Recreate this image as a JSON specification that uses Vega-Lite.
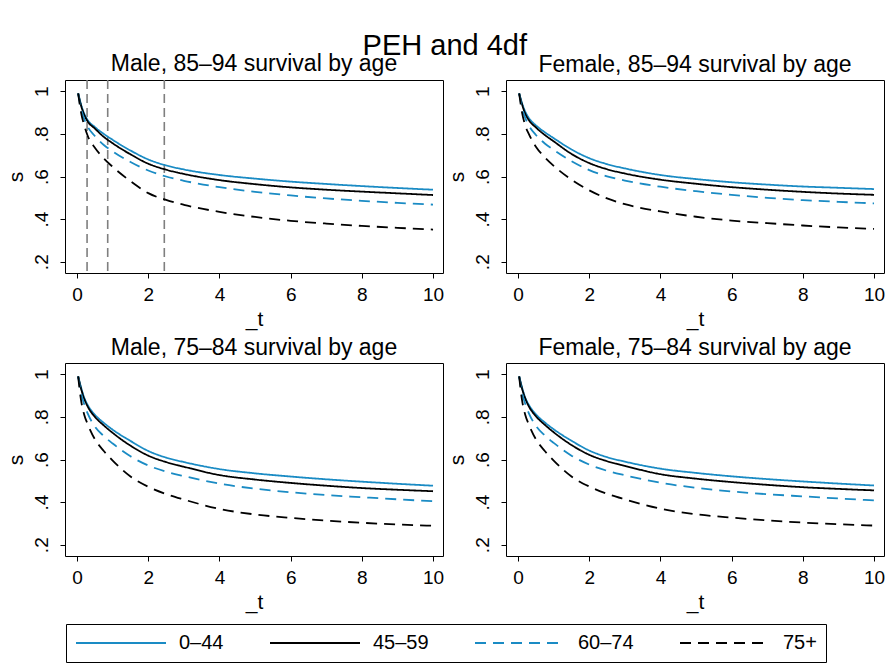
{
  "$schema": "https://vega.github.io/schema/vega-lite/v6.json",
  "padding": {"left": 4, "top": 31, "right": 0, "bottom": 0},
  "background": "white",
  "title": {"text": "PEH and 4df", "fontSize": 29, "font": "Liberation Sans", "fontWeight": "normal", "color": "black", "anchor": "middle", "offset": -8},
  "data": {"values": [
    {"panel":"Male, 85–94 survival by age","kind":"knot","t":0.28},
    {"panel":"Male, 85–94 survival by age","kind":"knot","t":0.86},
    {"panel":"Male, 85–94 survival by age","kind":"knot","t":2.45},

    {"panel":"Male, 85–94 survival by age","kind":"curve","group":"0–44","t":0.03,"s":0.99},
    {"panel":"Male, 85–94 survival by age","kind":"curve","group":"0–44","t":0.1,"s":0.945},
    {"panel":"Male, 85–94 survival by age","kind":"curve","group":"0–44","t":0.2,"s":0.895},
    {"panel":"Male, 85–94 survival by age","kind":"curve","group":"0–44","t":0.3,"s":0.864},
    {"panel":"Male, 85–94 survival by age","kind":"curve","group":"0–44","t":0.5,"s":0.832},
    {"panel":"Male, 85–94 survival by age","kind":"curve","group":"0–44","t":0.75,"s":0.8},
    {"panel":"Male, 85–94 survival by age","kind":"curve","group":"0–44","t":1,"s":0.772},
    {"panel":"Male, 85–94 survival by age","kind":"curve","group":"0–44","t":1.5,"s":0.722},
    {"panel":"Male, 85–94 survival by age","kind":"curve","group":"0–44","t":2,"s":0.68},
    {"panel":"Male, 85–94 survival by age","kind":"curve","group":"0–44","t":2.5,"s":0.652},
    {"panel":"Male, 85–94 survival by age","kind":"curve","group":"0–44","t":3,"s":0.633},
    {"panel":"Male, 85–94 survival by age","kind":"curve","group":"0–44","t":4,"s":0.607},
    {"panel":"Male, 85–94 survival by age","kind":"curve","group":"0–44","t":5,"s":0.59},
    {"panel":"Male, 85–94 survival by age","kind":"curve","group":"0–44","t":6,"s":0.576},
    {"panel":"Male, 85–94 survival by age","kind":"curve","group":"0–44","t":7,"s":0.565},
    {"panel":"Male, 85–94 survival by age","kind":"curve","group":"0–44","t":8,"s":0.555},
    {"panel":"Male, 85–94 survival by age","kind":"curve","group":"0–44","t":9,"s":0.546},
    {"panel":"Male, 85–94 survival by age","kind":"curve","group":"0–44","t":10,"s":0.538},

    {"panel":"Male, 85–94 survival by age","kind":"curve","group":"45–59","t":0.03,"s":0.99},
    {"panel":"Male, 85–94 survival by age","kind":"curve","group":"45–59","t":0.1,"s":0.94},
    {"panel":"Male, 85–94 survival by age","kind":"curve","group":"45–59","t":0.2,"s":0.89},
    {"panel":"Male, 85–94 survival by age","kind":"curve","group":"45–59","t":0.3,"s":0.858},
    {"panel":"Male, 85–94 survival by age","kind":"curve","group":"45–59","t":0.5,"s":0.825},
    {"panel":"Male, 85–94 survival by age","kind":"curve","group":"45–59","t":0.75,"s":0.786},
    {"panel":"Male, 85–94 survival by age","kind":"curve","group":"45–59","t":1,"s":0.756},
    {"panel":"Male, 85–94 survival by age","kind":"curve","group":"45–59","t":1.5,"s":0.704},
    {"panel":"Male, 85–94 survival by age","kind":"curve","group":"45–59","t":2,"s":0.66},
    {"panel":"Male, 85–94 survival by age","kind":"curve","group":"45–59","t":2.5,"s":0.632},
    {"panel":"Male, 85–94 survival by age","kind":"curve","group":"45–59","t":3,"s":0.612},
    {"panel":"Male, 85–94 survival by age","kind":"curve","group":"45–59","t":4,"s":0.583},
    {"panel":"Male, 85–94 survival by age","kind":"curve","group":"45–59","t":5,"s":0.564},
    {"panel":"Male, 85–94 survival by age","kind":"curve","group":"45–59","t":6,"s":0.549},
    {"panel":"Male, 85–94 survival by age","kind":"curve","group":"45–59","t":7,"s":0.538},
    {"panel":"Male, 85–94 survival by age","kind":"curve","group":"45–59","t":8,"s":0.529},
    {"panel":"Male, 85–94 survival by age","kind":"curve","group":"45–59","t":9,"s":0.521},
    {"panel":"Male, 85–94 survival by age","kind":"curve","group":"45–59","t":10,"s":0.513},

    {"panel":"Male, 85–94 survival by age","kind":"curve","group":"60–74","t":0.03,"s":0.99},
    {"panel":"Male, 85–94 survival by age","kind":"curve","group":"60–74","t":0.1,"s":0.925},
    {"panel":"Male, 85–94 survival by age","kind":"curve","group":"60–74","t":0.2,"s":0.87},
    {"panel":"Male, 85–94 survival by age","kind":"curve","group":"60–74","t":0.3,"s":0.833},
    {"panel":"Male, 85–94 survival by age","kind":"curve","group":"60–74","t":0.5,"s":0.79},
    {"panel":"Male, 85–94 survival by age","kind":"curve","group":"60–74","t":0.75,"s":0.748},
    {"panel":"Male, 85–94 survival by age","kind":"curve","group":"60–74","t":1,"s":0.718},
    {"panel":"Male, 85–94 survival by age","kind":"curve","group":"60–74","t":1.5,"s":0.668},
    {"panel":"Male, 85–94 survival by age","kind":"curve","group":"60–74","t":2,"s":0.628},
    {"panel":"Male, 85–94 survival by age","kind":"curve","group":"60–74","t":2.5,"s":0.6},
    {"panel":"Male, 85–94 survival by age","kind":"curve","group":"60–74","t":3,"s":0.58},
    {"panel":"Male, 85–94 survival by age","kind":"curve","group":"60–74","t":4,"s":0.55},
    {"panel":"Male, 85–94 survival by age","kind":"curve","group":"60–74","t":5,"s":0.528},
    {"panel":"Male, 85–94 survival by age","kind":"curve","group":"60–74","t":6,"s":0.511},
    {"panel":"Male, 85–94 survival by age","kind":"curve","group":"60–74","t":7,"s":0.497},
    {"panel":"Male, 85–94 survival by age","kind":"curve","group":"60–74","t":8,"s":0.486},
    {"panel":"Male, 85–94 survival by age","kind":"curve","group":"60–74","t":9,"s":0.476},
    {"panel":"Male, 85–94 survival by age","kind":"curve","group":"60–74","t":10,"s":0.468},

    {"panel":"Male, 85–94 survival by age","kind":"curve","group":"75+","t":0.03,"s":0.99},
    {"panel":"Male, 85–94 survival by age","kind":"curve","group":"75+","t":0.1,"s":0.91},
    {"panel":"Male, 85–94 survival by age","kind":"curve","group":"75+","t":0.2,"s":0.84},
    {"panel":"Male, 85–94 survival by age","kind":"curve","group":"75+","t":0.3,"s":0.79},
    {"panel":"Male, 85–94 survival by age","kind":"curve","group":"75+","t":0.5,"s":0.735},
    {"panel":"Male, 85–94 survival by age","kind":"curve","group":"75+","t":0.75,"s":0.685},
    {"panel":"Male, 85–94 survival by age","kind":"curve","group":"75+","t":1,"s":0.645},
    {"panel":"Male, 85–94 survival by age","kind":"curve","group":"75+","t":1.5,"s":0.578},
    {"panel":"Male, 85–94 survival by age","kind":"curve","group":"75+","t":2,"s":0.522},
    {"panel":"Male, 85–94 survival by age","kind":"curve","group":"75+","t":2.5,"s":0.49},
    {"panel":"Male, 85–94 survival by age","kind":"curve","group":"75+","t":3,"s":0.467},
    {"panel":"Male, 85–94 survival by age","kind":"curve","group":"75+","t":4,"s":0.434},
    {"panel":"Male, 85–94 survival by age","kind":"curve","group":"75+","t":5,"s":0.41},
    {"panel":"Male, 85–94 survival by age","kind":"curve","group":"75+","t":6,"s":0.392},
    {"panel":"Male, 85–94 survival by age","kind":"curve","group":"75+","t":7,"s":0.379},
    {"panel":"Male, 85–94 survival by age","kind":"curve","group":"75+","t":8,"s":0.368},
    {"panel":"Male, 85–94 survival by age","kind":"curve","group":"75+","t":9,"s":0.359},
    {"panel":"Male, 85–94 survival by age","kind":"curve","group":"75+","t":10,"s":0.351},

    {"panel":"Female, 85–94 survival by age","kind":"curve","group":"0–44","t":0.03,"s":0.99},
    {"panel":"Female, 85–94 survival by age","kind":"curve","group":"0–44","t":0.1,"s":0.95},
    {"panel":"Female, 85–94 survival by age","kind":"curve","group":"0–44","t":0.2,"s":0.905},
    {"panel":"Female, 85–94 survival by age","kind":"curve","group":"0–44","t":0.3,"s":0.875},
    {"panel":"Female, 85–94 survival by age","kind":"curve","group":"0–44","t":0.5,"s":0.84},
    {"panel":"Female, 85–94 survival by age","kind":"curve","group":"0–44","t":0.75,"s":0.808},
    {"panel":"Female, 85–94 survival by age","kind":"curve","group":"0–44","t":1,"s":0.78},
    {"panel":"Female, 85–94 survival by age","kind":"curve","group":"0–44","t":1.5,"s":0.727},
    {"panel":"Female, 85–94 survival by age","kind":"curve","group":"0–44","t":2,"s":0.686},
    {"panel":"Female, 85–94 survival by age","kind":"curve","group":"0–44","t":2.5,"s":0.658},
    {"panel":"Female, 85–94 survival by age","kind":"curve","group":"0–44","t":3,"s":0.638},
    {"panel":"Female, 85–94 survival by age","kind":"curve","group":"0–44","t":4,"s":0.607},
    {"panel":"Female, 85–94 survival by age","kind":"curve","group":"0–44","t":5,"s":0.588},
    {"panel":"Female, 85–94 survival by age","kind":"curve","group":"0–44","t":6,"s":0.573},
    {"panel":"Female, 85–94 survival by age","kind":"curve","group":"0–44","t":7,"s":0.562},
    {"panel":"Female, 85–94 survival by age","kind":"curve","group":"0–44","t":8,"s":0.553},
    {"panel":"Female, 85–94 survival by age","kind":"curve","group":"0–44","t":9,"s":0.547},
    {"panel":"Female, 85–94 survival by age","kind":"curve","group":"0–44","t":10,"s":0.541},

    {"panel":"Female, 85–94 survival by age","kind":"curve","group":"45–59","t":0.03,"s":0.99},
    {"panel":"Female, 85–94 survival by age","kind":"curve","group":"45–59","t":0.1,"s":0.945},
    {"panel":"Female, 85–94 survival by age","kind":"curve","group":"45–59","t":0.2,"s":0.895},
    {"panel":"Female, 85–94 survival by age","kind":"curve","group":"45–59","t":0.3,"s":0.865},
    {"panel":"Female, 85–94 survival by age","kind":"curve","group":"45–59","t":0.5,"s":0.83},
    {"panel":"Female, 85–94 survival by age","kind":"curve","group":"45–59","t":0.75,"s":0.795},
    {"panel":"Female, 85–94 survival by age","kind":"curve","group":"45–59","t":1,"s":0.765},
    {"panel":"Female, 85–94 survival by age","kind":"curve","group":"45–59","t":1.5,"s":0.706},
    {"panel":"Female, 85–94 survival by age","kind":"curve","group":"45–59","t":2,"s":0.663},
    {"panel":"Female, 85–94 survival by age","kind":"curve","group":"45–59","t":2.5,"s":0.634},
    {"panel":"Female, 85–94 survival by age","kind":"curve","group":"45–59","t":3,"s":0.614},
    {"panel":"Female, 85–94 survival by age","kind":"curve","group":"45–59","t":4,"s":0.585},
    {"panel":"Female, 85–94 survival by age","kind":"curve","group":"45–59","t":5,"s":0.566},
    {"panel":"Female, 85–94 survival by age","kind":"curve","group":"45–59","t":6,"s":0.55},
    {"panel":"Female, 85–94 survival by age","kind":"curve","group":"45–59","t":7,"s":0.538},
    {"panel":"Female, 85–94 survival by age","kind":"curve","group":"45–59","t":8,"s":0.528},
    {"panel":"Female, 85–94 survival by age","kind":"curve","group":"45–59","t":9,"s":0.52},
    {"panel":"Female, 85–94 survival by age","kind":"curve","group":"45–59","t":10,"s":0.514},

    {"panel":"Female, 85–94 survival by age","kind":"curve","group":"60–74","t":0.03,"s":0.99},
    {"panel":"Female, 85–94 survival by age","kind":"curve","group":"60–74","t":0.1,"s":0.93},
    {"panel":"Female, 85–94 survival by age","kind":"curve","group":"60–74","t":0.2,"s":0.875},
    {"panel":"Female, 85–94 survival by age","kind":"curve","group":"60–74","t":0.3,"s":0.84},
    {"panel":"Female, 85–94 survival by age","kind":"curve","group":"60–74","t":0.5,"s":0.795},
    {"panel":"Female, 85–94 survival by age","kind":"curve","group":"60–74","t":0.75,"s":0.755},
    {"panel":"Female, 85–94 survival by age","kind":"curve","group":"60–74","t":1,"s":0.725},
    {"panel":"Female, 85–94 survival by age","kind":"curve","group":"60–74","t":1.5,"s":0.672},
    {"panel":"Female, 85–94 survival by age","kind":"curve","group":"60–74","t":2,"s":0.63},
    {"panel":"Female, 85–94 survival by age","kind":"curve","group":"60–74","t":2.5,"s":0.601},
    {"panel":"Female, 85–94 survival by age","kind":"curve","group":"60–74","t":3,"s":0.581},
    {"panel":"Female, 85–94 survival by age","kind":"curve","group":"60–74","t":4,"s":0.552},
    {"panel":"Female, 85–94 survival by age","kind":"curve","group":"60–74","t":5,"s":0.531},
    {"panel":"Female, 85–94 survival by age","kind":"curve","group":"60–74","t":6,"s":0.514},
    {"panel":"Female, 85–94 survival by age","kind":"curve","group":"60–74","t":7,"s":0.5},
    {"panel":"Female, 85–94 survival by age","kind":"curve","group":"60–74","t":8,"s":0.489},
    {"panel":"Female, 85–94 survival by age","kind":"curve","group":"60–74","t":9,"s":0.481},
    {"panel":"Female, 85–94 survival by age","kind":"curve","group":"60–74","t":10,"s":0.474},

    {"panel":"Female, 85–94 survival by age","kind":"curve","group":"75+","t":0.03,"s":0.99},
    {"panel":"Female, 85–94 survival by age","kind":"curve","group":"75+","t":0.1,"s":0.91},
    {"panel":"Female, 85–94 survival by age","kind":"curve","group":"75+","t":0.2,"s":0.84},
    {"panel":"Female, 85–94 survival by age","kind":"curve","group":"75+","t":0.3,"s":0.8},
    {"panel":"Female, 85–94 survival by age","kind":"curve","group":"75+","t":0.5,"s":0.74},
    {"panel":"Female, 85–94 survival by age","kind":"curve","group":"75+","t":0.75,"s":0.69},
    {"panel":"Female, 85–94 survival by age","kind":"curve","group":"75+","t":1,"s":0.65},
    {"panel":"Female, 85–94 survival by age","kind":"curve","group":"75+","t":1.5,"s":0.585},
    {"panel":"Female, 85–94 survival by age","kind":"curve","group":"75+","t":2,"s":0.535},
    {"panel":"Female, 85–94 survival by age","kind":"curve","group":"75+","t":2.5,"s":0.497},
    {"panel":"Female, 85–94 survival by age","kind":"curve","group":"75+","t":3,"s":0.47},
    {"panel":"Female, 85–94 survival by age","kind":"curve","group":"75+","t":4,"s":0.436},
    {"panel":"Female, 85–94 survival by age","kind":"curve","group":"75+","t":5,"s":0.411},
    {"panel":"Female, 85–94 survival by age","kind":"curve","group":"75+","t":6,"s":0.393},
    {"panel":"Female, 85–94 survival by age","kind":"curve","group":"75+","t":7,"s":0.381},
    {"panel":"Female, 85–94 survival by age","kind":"curve","group":"75+","t":8,"s":0.37},
    {"panel":"Female, 85–94 survival by age","kind":"curve","group":"75+","t":9,"s":0.361},
    {"panel":"Female, 85–94 survival by age","kind":"curve","group":"75+","t":10,"s":0.354},

    {"panel":"Male, 75–84 survival by age","kind":"curve","group":"0–44","t":0.03,"s":0.99},
    {"panel":"Male, 75–84 survival by age","kind":"curve","group":"0–44","t":0.1,"s":0.945},
    {"panel":"Male, 75–84 survival by age","kind":"curve","group":"0–44","t":0.2,"s":0.89},
    {"panel":"Male, 75–84 survival by age","kind":"curve","group":"0–44","t":0.3,"s":0.855},
    {"panel":"Male, 75–84 survival by age","kind":"curve","group":"0–44","t":0.5,"s":0.81},
    {"panel":"Male, 75–84 survival by age","kind":"curve","group":"0–44","t":0.75,"s":0.772},
    {"panel":"Male, 75–84 survival by age","kind":"curve","group":"0–44","t":1,"s":0.74},
    {"panel":"Male, 75–84 survival by age","kind":"curve","group":"0–44","t":1.5,"s":0.687},
    {"panel":"Male, 75–84 survival by age","kind":"curve","group":"0–44","t":2,"s":0.64},
    {"panel":"Male, 75–84 survival by age","kind":"curve","group":"0–44","t":2.5,"s":0.609},
    {"panel":"Male, 75–84 survival by age","kind":"curve","group":"0–44","t":3,"s":0.588},
    {"panel":"Male, 75–84 survival by age","kind":"curve","group":"0–44","t":4,"s":0.555},
    {"panel":"Male, 75–84 survival by age","kind":"curve","group":"0–44","t":5,"s":0.535},
    {"panel":"Male, 75–84 survival by age","kind":"curve","group":"0–44","t":6,"s":0.52},
    {"panel":"Male, 75–84 survival by age","kind":"curve","group":"0–44","t":7,"s":0.507},
    {"panel":"Male, 75–84 survival by age","kind":"curve","group":"0–44","t":8,"s":0.496},
    {"panel":"Male, 75–84 survival by age","kind":"curve","group":"0–44","t":9,"s":0.486},
    {"panel":"Male, 75–84 survival by age","kind":"curve","group":"0–44","t":10,"s":0.477},

    {"panel":"Male, 75–84 survival by age","kind":"curve","group":"45–59","t":0.03,"s":0.99},
    {"panel":"Male, 75–84 survival by age","kind":"curve","group":"45–59","t":0.1,"s":0.94},
    {"panel":"Male, 75–84 survival by age","kind":"curve","group":"45–59","t":0.2,"s":0.885},
    {"panel":"Male, 75–84 survival by age","kind":"curve","group":"45–59","t":0.3,"s":0.848},
    {"panel":"Male, 75–84 survival by age","kind":"curve","group":"45–59","t":0.5,"s":0.8},
    {"panel":"Male, 75–84 survival by age","kind":"curve","group":"45–59","t":0.75,"s":0.76},
    {"panel":"Male, 75–84 survival by age","kind":"curve","group":"45–59","t":1,"s":0.725},
    {"panel":"Male, 75–84 survival by age","kind":"curve","group":"45–59","t":1.5,"s":0.665},
    {"panel":"Male, 75–84 survival by age","kind":"curve","group":"45–59","t":2,"s":0.618},
    {"panel":"Male, 75–84 survival by age","kind":"curve","group":"45–59","t":2.5,"s":0.588},
    {"panel":"Male, 75–84 survival by age","kind":"curve","group":"45–59","t":3,"s":0.566},
    {"panel":"Male, 75–84 survival by age","kind":"curve","group":"45–59","t":4,"s":0.527},
    {"panel":"Male, 75–84 survival by age","kind":"curve","group":"45–59","t":5,"s":0.506},
    {"panel":"Male, 75–84 survival by age","kind":"curve","group":"45–59","t":6,"s":0.49},
    {"panel":"Male, 75–84 survival by age","kind":"curve","group":"45–59","t":7,"s":0.477},
    {"panel":"Male, 75–84 survival by age","kind":"curve","group":"45–59","t":8,"s":0.466},
    {"panel":"Male, 75–84 survival by age","kind":"curve","group":"45–59","t":9,"s":0.458},
    {"panel":"Male, 75–84 survival by age","kind":"curve","group":"45–59","t":10,"s":0.451},

    {"panel":"Male, 75–84 survival by age","kind":"curve","group":"60–74","t":0.03,"s":0.99},
    {"panel":"Male, 75–84 survival by age","kind":"curve","group":"60–74","t":0.1,"s":0.92},
    {"panel":"Male, 75–84 survival by age","kind":"curve","group":"60–74","t":0.2,"s":0.86},
    {"panel":"Male, 75–84 survival by age","kind":"curve","group":"60–74","t":0.3,"s":0.815},
    {"panel":"Male, 75–84 survival by age","kind":"curve","group":"60–74","t":0.5,"s":0.755},
    {"panel":"Male, 75–84 survival by age","kind":"curve","group":"60–74","t":0.75,"s":0.71},
    {"panel":"Male, 75–84 survival by age","kind":"curve","group":"60–74","t":1,"s":0.675},
    {"panel":"Male, 75–84 survival by age","kind":"curve","group":"60–74","t":1.5,"s":0.615},
    {"panel":"Male, 75–84 survival by age","kind":"curve","group":"60–74","t":2,"s":0.572},
    {"panel":"Male, 75–84 survival by age","kind":"curve","group":"60–74","t":2.5,"s":0.543},
    {"panel":"Male, 75–84 survival by age","kind":"curve","group":"60–74","t":3,"s":0.522},
    {"panel":"Male, 75–84 survival by age","kind":"curve","group":"60–74","t":4,"s":0.487},
    {"panel":"Male, 75–84 survival by age","kind":"curve","group":"60–74","t":5,"s":0.463},
    {"panel":"Male, 75–84 survival by age","kind":"curve","group":"60–74","t":6,"s":0.446},
    {"panel":"Male, 75–84 survival by age","kind":"curve","group":"60–74","t":7,"s":0.433},
    {"panel":"Male, 75–84 survival by age","kind":"curve","group":"60–74","t":8,"s":0.423},
    {"panel":"Male, 75–84 survival by age","kind":"curve","group":"60–74","t":9,"s":0.413},
    {"panel":"Male, 75–84 survival by age","kind":"curve","group":"60–74","t":10,"s":0.404},

    {"panel":"Male, 75–84 survival by age","kind":"curve","group":"75+","t":0.03,"s":0.99},
    {"panel":"Male, 75–84 survival by age","kind":"curve","group":"75+","t":0.1,"s":0.89},
    {"panel":"Male, 75–84 survival by age","kind":"curve","group":"75+","t":0.2,"s":0.81},
    {"panel":"Male, 75–84 survival by age","kind":"curve","group":"75+","t":0.3,"s":0.765},
    {"panel":"Male, 75–84 survival by age","kind":"curve","group":"75+","t":0.5,"s":0.695},
    {"panel":"Male, 75–84 survival by age","kind":"curve","group":"75+","t":0.75,"s":0.64},
    {"panel":"Male, 75–84 survival by age","kind":"curve","group":"75+","t":1,"s":0.595},
    {"panel":"Male, 75–84 survival by age","kind":"curve","group":"75+","t":1.5,"s":0.52},
    {"panel":"Male, 75–84 survival by age","kind":"curve","group":"75+","t":2,"s":0.472},
    {"panel":"Male, 75–84 survival by age","kind":"curve","group":"75+","t":2.5,"s":0.438},
    {"panel":"Male, 75–84 survival by age","kind":"curve","group":"75+","t":3,"s":0.412},
    {"panel":"Male, 75–84 survival by age","kind":"curve","group":"75+","t":4,"s":0.368},
    {"panel":"Male, 75–84 survival by age","kind":"curve","group":"75+","t":5,"s":0.342},
    {"panel":"Male, 75–84 survival by age","kind":"curve","group":"75+","t":6,"s":0.326},
    {"panel":"Male, 75–84 survival by age","kind":"curve","group":"75+","t":7,"s":0.313},
    {"panel":"Male, 75–84 survival by age","kind":"curve","group":"75+","t":8,"s":0.303},
    {"panel":"Male, 75–84 survival by age","kind":"curve","group":"75+","t":9,"s":0.295},
    {"panel":"Male, 75–84 survival by age","kind":"curve","group":"75+","t":10,"s":0.289},

    {"panel":"Female, 75–84 survival by age","kind":"curve","group":"0–44","t":0.03,"s":0.99},
    {"panel":"Female, 75–84 survival by age","kind":"curve","group":"0–44","t":0.1,"s":0.945},
    {"panel":"Female, 75–84 survival by age","kind":"curve","group":"0–44","t":0.2,"s":0.89},
    {"panel":"Female, 75–84 survival by age","kind":"curve","group":"0–44","t":0.3,"s":0.857},
    {"panel":"Female, 75–84 survival by age","kind":"curve","group":"0–44","t":0.5,"s":0.812},
    {"panel":"Female, 75–84 survival by age","kind":"curve","group":"0–44","t":0.75,"s":0.774},
    {"panel":"Female, 75–84 survival by age","kind":"curve","group":"0–44","t":1,"s":0.742},
    {"panel":"Female, 75–84 survival by age","kind":"curve","group":"0–44","t":1.5,"s":0.688},
    {"panel":"Female, 75–84 survival by age","kind":"curve","group":"0–44","t":2,"s":0.642},
    {"panel":"Female, 75–84 survival by age","kind":"curve","group":"0–44","t":2.5,"s":0.611},
    {"panel":"Female, 75–84 survival by age","kind":"curve","group":"0–44","t":3,"s":0.59},
    {"panel":"Female, 75–84 survival by age","kind":"curve","group":"0–44","t":4,"s":0.557},
    {"panel":"Female, 75–84 survival by age","kind":"curve","group":"0–44","t":5,"s":0.537},
    {"panel":"Female, 75–84 survival by age","kind":"curve","group":"0–44","t":6,"s":0.521},
    {"panel":"Female, 75–84 survival by age","kind":"curve","group":"0–44","t":7,"s":0.508},
    {"panel":"Female, 75–84 survival by age","kind":"curve","group":"0–44","t":8,"s":0.497},
    {"panel":"Female, 75–84 survival by age","kind":"curve","group":"0–44","t":9,"s":0.487},
    {"panel":"Female, 75–84 survival by age","kind":"curve","group":"0–44","t":10,"s":0.478},

    {"panel":"Female, 75–84 survival by age","kind":"curve","group":"45–59","t":0.03,"s":0.99},
    {"panel":"Female, 75–84 survival by age","kind":"curve","group":"45–59","t":0.1,"s":0.94},
    {"panel":"Female, 75–84 survival by age","kind":"curve","group":"45–59","t":0.2,"s":0.887},
    {"panel":"Female, 75–84 survival by age","kind":"curve","group":"45–59","t":0.3,"s":0.85},
    {"panel":"Female, 75–84 survival by age","kind":"curve","group":"45–59","t":0.5,"s":0.803},
    {"panel":"Female, 75–84 survival by age","kind":"curve","group":"45–59","t":0.75,"s":0.763},
    {"panel":"Female, 75–84 survival by age","kind":"curve","group":"45–59","t":1,"s":0.728},
    {"panel":"Female, 75–84 survival by age","kind":"curve","group":"45–59","t":1.5,"s":0.668},
    {"panel":"Female, 75–84 survival by age","kind":"curve","group":"45–59","t":2,"s":0.622},
    {"panel":"Female, 75–84 survival by age","kind":"curve","group":"45–59","t":2.5,"s":0.592},
    {"panel":"Female, 75–84 survival by age","kind":"curve","group":"45–59","t":3,"s":0.57},
    {"panel":"Female, 75–84 survival by age","kind":"curve","group":"45–59","t":4,"s":0.531},
    {"panel":"Female, 75–84 survival by age","kind":"curve","group":"45–59","t":5,"s":0.51},
    {"panel":"Female, 75–84 survival by age","kind":"curve","group":"45–59","t":6,"s":0.494},
    {"panel":"Female, 75–84 survival by age","kind":"curve","group":"45–59","t":7,"s":0.481},
    {"panel":"Female, 75–84 survival by age","kind":"curve","group":"45–59","t":8,"s":0.47},
    {"panel":"Female, 75–84 survival by age","kind":"curve","group":"45–59","t":9,"s":0.462},
    {"panel":"Female, 75–84 survival by age","kind":"curve","group":"45–59","t":10,"s":0.455},

    {"panel":"Female, 75–84 survival by age","kind":"curve","group":"60–74","t":0.03,"s":0.99},
    {"panel":"Female, 75–84 survival by age","kind":"curve","group":"60–74","t":0.1,"s":0.92},
    {"panel":"Female, 75–84 survival by age","kind":"curve","group":"60–74","t":0.2,"s":0.862},
    {"panel":"Female, 75–84 survival by age","kind":"curve","group":"60–74","t":0.3,"s":0.818},
    {"panel":"Female, 75–84 survival by age","kind":"curve","group":"60–74","t":0.5,"s":0.758},
    {"panel":"Female, 75–84 survival by age","kind":"curve","group":"60–74","t":0.75,"s":0.713},
    {"panel":"Female, 75–84 survival by age","kind":"curve","group":"60–74","t":1,"s":0.678},
    {"panel":"Female, 75–84 survival by age","kind":"curve","group":"60–74","t":1.5,"s":0.618},
    {"panel":"Female, 75–84 survival by age","kind":"curve","group":"60–74","t":2,"s":0.576},
    {"panel":"Female, 75–84 survival by age","kind":"curve","group":"60–74","t":2.5,"s":0.547},
    {"panel":"Female, 75–84 survival by age","kind":"curve","group":"60–74","t":3,"s":0.526},
    {"panel":"Female, 75–84 survival by age","kind":"curve","group":"60–74","t":4,"s":0.491},
    {"panel":"Female, 75–84 survival by age","kind":"curve","group":"60–74","t":5,"s":0.467},
    {"panel":"Female, 75–84 survival by age","kind":"curve","group":"60–74","t":6,"s":0.45},
    {"panel":"Female, 75–84 survival by age","kind":"curve","group":"60–74","t":7,"s":0.437},
    {"panel":"Female, 75–84 survival by age","kind":"curve","group":"60–74","t":8,"s":0.427},
    {"panel":"Female, 75–84 survival by age","kind":"curve","group":"60–74","t":9,"s":0.417},
    {"panel":"Female, 75–84 survival by age","kind":"curve","group":"60–74","t":10,"s":0.408},

    {"panel":"Female, 75–84 survival by age","kind":"curve","group":"75+","t":0.03,"s":0.99},
    {"panel":"Female, 75–84 survival by age","kind":"curve","group":"75+","t":0.1,"s":0.89},
    {"panel":"Female, 75–84 survival by age","kind":"curve","group":"75+","t":0.2,"s":0.81},
    {"panel":"Female, 75–84 survival by age","kind":"curve","group":"75+","t":0.3,"s":0.765},
    {"panel":"Female, 75–84 survival by age","kind":"curve","group":"75+","t":0.5,"s":0.695},
    {"panel":"Female, 75–84 survival by age","kind":"curve","group":"75+","t":0.75,"s":0.64},
    {"panel":"Female, 75–84 survival by age","kind":"curve","group":"75+","t":1,"s":0.595},
    {"panel":"Female, 75–84 survival by age","kind":"curve","group":"75+","t":1.5,"s":0.52},
    {"panel":"Female, 75–84 survival by age","kind":"curve","group":"75+","t":2,"s":0.473},
    {"panel":"Female, 75–84 survival by age","kind":"curve","group":"75+","t":2.5,"s":0.439},
    {"panel":"Female, 75–84 survival by age","kind":"curve","group":"75+","t":3,"s":0.413},
    {"panel":"Female, 75–84 survival by age","kind":"curve","group":"75+","t":4,"s":0.369},
    {"panel":"Female, 75–84 survival by age","kind":"curve","group":"75+","t":5,"s":0.343},
    {"panel":"Female, 75–84 survival by age","kind":"curve","group":"75+","t":6,"s":0.327},
    {"panel":"Female, 75–84 survival by age","kind":"curve","group":"75+","t":7,"s":0.314},
    {"panel":"Female, 75–84 survival by age","kind":"curve","group":"75+","t":8,"s":0.304},
    {"panel":"Female, 75–84 survival by age","kind":"curve","group":"75+","t":9,"s":0.296},
    {"panel":"Female, 75–84 survival by age","kind":"curve","group":"75+","t":10,"s":0.29}
  ]},
  "facet": {
    "field": "panel",
    "type": "nominal",
    "sort": ["Male, 85–94 survival by age", "Female, 85–94 survival by age", "Male, 75–84 survival by age", "Female, 75–84 survival by age"],
    "header": {"title": null, "labelFontSize": 23, "labelFont": "Liberation Sans", "labelColor": "black", "labelPadding": 3}
  },
  "columns": 2,
  "spacing": {"column": 0, "row": 6},
  "resolve": {"axis": {"x": "independent", "y": "independent"}},
  "spec": {
    "width": 378,
    "height": 193,
    "layer": [
      {
        "transform": [{"filter": {"field": "kind", "equal": "knot"}}],
        "mark": {"type": "rule", "color": "#7f7f7f", "strokeWidth": 1.6, "strokeDash": [9, 5]},
        "encoding": {
          "x": {"field": "t", "type": "quantitative"}
        }
      },
      {
        "transform": [{"filter": {"field": "kind", "equal": "curve"}}],
        "mark": {"type": "line", "strokeWidth": 1.8, "interpolate": "monotone"},
        "encoding": {
          "x": {"field": "t", "type": "quantitative",
                "scale": {"domain": [-0.34, 10.28], "nice": false, "zero": false},
                "axis": {"title": "_t", "values": [0, 2, 4, 6, 8, 10], "labelPadding": 7, "titlePadding": 4, "labelFlush": false}},
          "y": {"field": "s", "type": "quantitative",
                "scale": {"domain": [0.147, 1.053], "nice": false, "zero": false},
                "axis": {"title": "s", "values": [0.2, 0.4, 0.6, 0.8, 1], "labelExpr": "datum.value == 1 ? '1' : substring(format(datum.value, '.1f'), 1)", "labelAngle": 270, "labelAlign": "center", "labelBaseline": "bottom", "labelPadding": 9, "titlePadding": 6, "labelFlush": false}},
          "color": {"field": "group", "type": "nominal",
                    "scale": {"domain": ["0–44", "45–59", "60–74", "75+"], "range": ["#1a8bc4", "#000000", "#1a8bc4", "#000000"]},
                    "legend": {"orient": "none", "legendX": 1, "legendY": 544, "direction": "horizontal", "title": null, "symbolType": "M-1,0H9", "symbolSize": 324, "symbolStrokeWidth": 2, "labelFontSize": 20, "labelOffset": 84, "columnPadding": 42, "strokeColor": "black", "padding": 9, "labelLimit": 200}},
          "strokeDash": {"field": "group", "type": "nominal",
                    "scale": {"domain": ["0–44", "45–59", "60–74", "75+"], "range": [[1, 0], [1, 0], [11, 7], [11, 7]]},
                    "legend": {"orient": "none", "legendX": 1, "legendY": 544, "direction": "horizontal", "title": null, "symbolType": "M-1,0H9", "symbolSize": 324, "symbolStrokeWidth": 2, "labelFontSize": 20, "labelOffset": 84, "columnPadding": 42, "strokeColor": "black", "padding": 9, "labelLimit": 200}}
        }
      }
    ]
  },
  "config": {
    "font": "Liberation Sans",
    "view": {"stroke": "black", "strokeWidth": 1},
    "axis": {"domain": false, "grid": false, "labelColor": "black", "tickColor": "black", "titleColor": "black", "labelFontSize": 19, "titleFontSize": 21, "titleFontWeight": "normal", "tickSize": 5, "labelFont": "Liberation Sans", "titleFont": "Liberation Sans"},
    "legend": {"labelColor": "black", "labelFont": "Liberation Sans"}
  }
}
